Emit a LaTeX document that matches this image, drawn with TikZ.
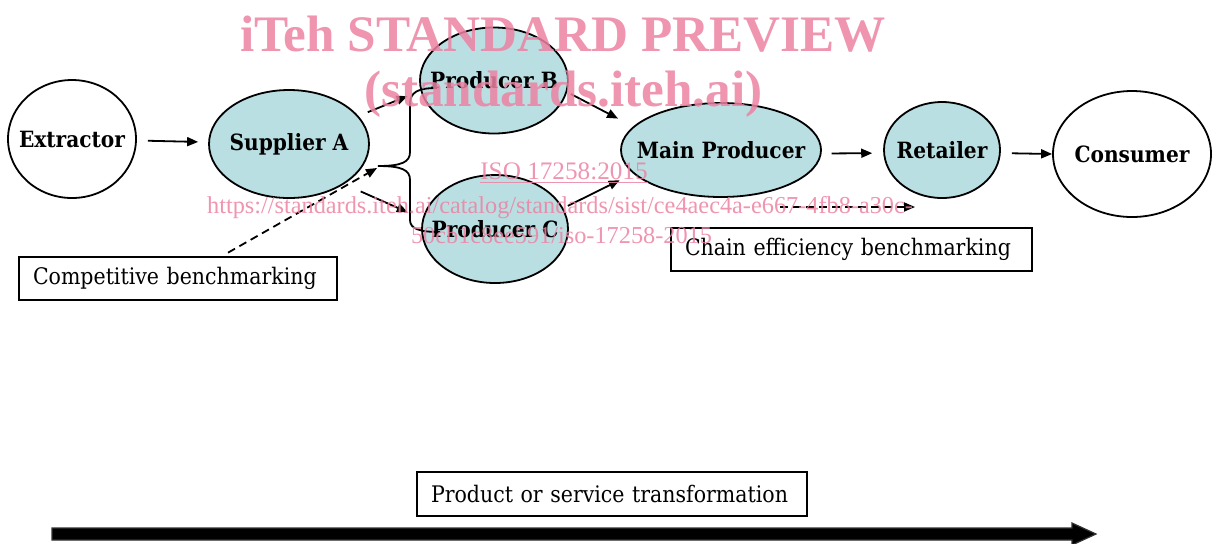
\documentclass[tikz,border=0pt]{standalone}
\usepackage{fontspec}
\setmainfont{DejaVu Serif Condensed}
\newfontfamily\wmfont{Liberation Serif}
\usetikzlibrary{arrows.meta,shapes.geometric}

\definecolor{firmfill}{RGB}{186,223,226}
\definecolor{wmpink}{RGB}{236,130,162}
\newcommand\stagetext[1]{\makebox[0pt]{#1}}

\begin{document}
\begin{tikzpicture}[x=0.5pt,y=-0.5pt,>={Triangle[length=5.5pt,width=4.5pt]},
  stage/.style={ellipse,draw,line width=0.9pt,inner sep=0pt,font=\bfseries\fontsize{11.2}{13}\selectfont},
  firm/.style={stage,fill=firmfill},
  note/.style={draw,line width=0.9pt,inner xsep=7pt,inner ysep=0pt,minimum height=21.5pt,align=left,font=\fontsize{11.4}{13}\selectfont},
  flow/.style={->,line width=0.9pt},
  bench/.style={->,line width=0.9pt,dash pattern=on 4pt off 2.5pt},
  wm/.style={text=wmpink,text opacity=0.85,inner sep=0pt,anchor=base}]
  \useasboundingbox (0,0) rectangle (1213,543);

  % supply chain stages
  \node[stage,minimum width=64pt,minimum height=59pt] (ext) at (72,139) {\stagetext{Extractor}};
  \node[firm,minimum width=80pt,minimum height=54pt] (supA) at (289,144) {\stagetext{Supplier A}};
  \node[firm,minimum width=74pt,minimum height=53pt] (prodB) at (494,80.5) {\stagetext{Producer B}};
  \node[firm,minimum width=73pt,minimum height=54pt] (prodC) at (495,229) {\stagetext{Producer C}};
  \node[firm,minimum width=100pt,minimum height=47pt] (main) at (721,150) {\stagetext{Main Producer}};
  \node[firm,minimum width=58pt,minimum height=48pt] (retail) at (942,150) {\stagetext{Retailer}};
  \node[stage,minimum width=79pt,minimum height=63pt] (cons) at (1132,154) {\stagetext{Consumer}};

  \draw[flow,shorten <=5.5pt,shorten >=5pt] (ext) -- (supA);
  \draw[flow,shorten <=5pt,shorten >=7pt] (supA.22) -- (prodB.188);
  \draw[flow,shorten <=9pt,shorten >=8pt] (supA.-36) -- (prodC.172);
  \draw[flow,shorten <=2pt,shorten >=8.5pt] (prodB.-9) -- (main.165);
  \draw[flow,shorten <=2.5pt,shorten >=7.5pt] (prodC.17) -- (main.195);
  \draw[flow,shorten <=5pt,shorten >=5.5pt] (main.-2) -- (retail.183);
  \draw[flow,shorten <=5.5pt] (retail.-3) -- (cons.west);

  % brace over the two producers
  \draw[line width=0.9pt] (437,88) .. controls (418,88) and (410,92) .. (410,104) -- (410,152)
    .. controls (410,162) and (402,166) .. (378,166) .. controls (402,166) and (410,170) .. (410,180)
    -- (410,220) .. controls (410,229) and (420,232) .. (440,232);

  % benchmarking notes
  \node[note,text width=145pt] (comp) at (178,278.5) {Competitive benchmarking};
  \node[note,text width=166.5pt] (chain) at (851.5,249.5) {Chain efficiency benchmarking};
  \coordinate (compTip) at (377,168);
  \coordinate (chainTail) at (780,207);
  \coordinate (chainTip) at (915,207);
  \draw[bench,shorten <=3.5pt] (comp.27) -- (compTip);
  \draw[bench] (chainTail) -- (chainTip);

  % transformation axis
  \node[note,text width=181pt,minimum height=22pt] (trans) at (612,494) {Product or service transformation};
  \filldraw[line width=0.6pt,fill=black,draw=black!80] (52,528) -- (1072,528) -- (1072,523) -- (1096,534)
    -- (1072,545) -- (1072,540) -- (52,540) -- cycle;

  % preview watermark
  \node[wm,font=\wmfont\bfseries\fontsize{25.6}{30}\selectfont] (wmTitle) at (563,51) {iTeh STANDARD PREVIEW};
  \node[wm,font=\wmfont\bfseries\fontsize{25.6}{30}\selectfont] (wmSite) at (563.5,106) {(standards.iteh.ai)};
  \node[wm,font=\wmfont\fontsize{12.6}{15}\selectfont] (wmIso) at (564,179) {\underline{ISO 17258:2015}};
  \node[wm,font=\wmfont\fontsize{12.15}{15}\selectfont] (wmUrl) at (560,213) {https://standards.iteh.ai/catalog/standards/sist/ce4aec4a-e667-4fb8-a30c-};
  \node[wm,font=\wmfont\fontsize{12.15}{15}\selectfont] (wmDoc) at (561.5,243) {50cb1c8ee591/iso-17258-2015};
\end{tikzpicture}
\end{document}
